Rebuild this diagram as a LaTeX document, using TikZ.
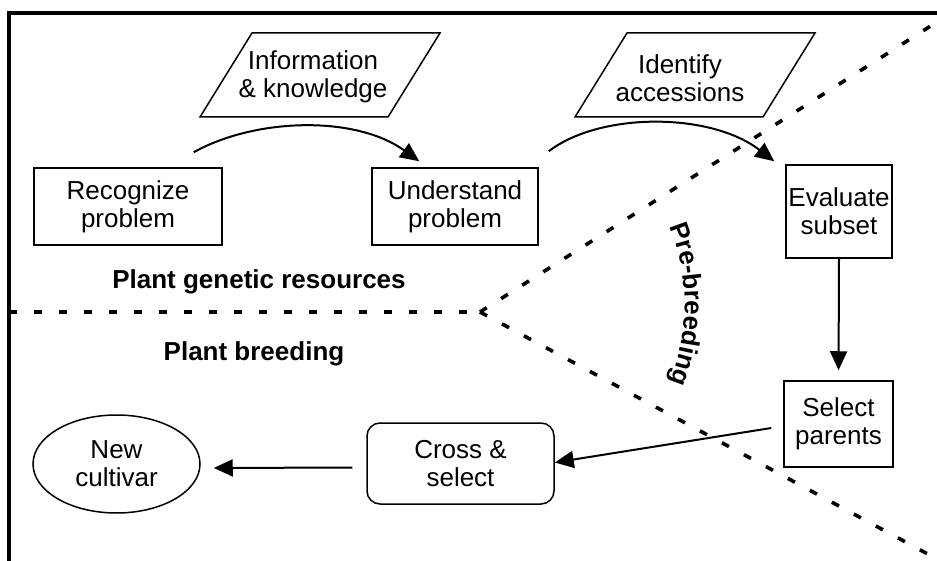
\documentclass[tikz,border=0pt]{standalone}
\usepackage{fontspec}
\setmainfont{Liberation Sans}
\usetikzlibrary{arrows.meta,shapes.geometric,decorations.text}
\begin{document}
\begin{tikzpicture}[x=1pt,y=-1pt,
  every node/.style={font=\fontsize{26}{28}\selectfont, align=center, inner sep=0pt},
  boxnode/.style={draw, line width=1.5pt},
  lbl/.style={font=\fontsize{26}{28}\selectfont\bfseries},
  arr/.style={line width=2pt, -{Triangle[length=19pt,width=17pt]}},
  dline/.style={line width=3.6pt, dash pattern=on 8pt off 17pt},
  frame/.style={line width=3.5pt},
  para/.style={line width=1.5pt, line join=miter}]
\useasboundingbox (0,0) rectangle (937,561);

% frame
\coordinate (ftl) at (9,13);
\coordinate (ftr) at (937,13);
\coordinate (fbl) at (9,561);
\draw[frame] (ftr) -- (ftl) -- (fbl);

% dashed separators
\coordinate (jn) at (480,312);
\coordinate (dl) at (9,312);
\coordinate (du) at (937,22);
\coordinate (dd) at (937,559);
\draw[dline] (dl) -- (jn);
\draw[dline] (jn) -- (du);
\draw[dline] (jn) -- (dd);

% boxes
\node[boxnode, minimum width=188pt, minimum height=77pt] (rec) at (128,206.5) {Recognize\\problem};
\node[boxnode, minimum width=166pt, minimum height=77pt] (und) at (455,206.5) {Understand\\problem};
\node[boxnode, minimum width=106pt, minimum height=93pt] (eval) at (839,211.5) {Evaluate\\subset};
\node[boxnode, minimum width=109pt, minimum height=86pt] (sel) at (838.5,424) {Select\\parents};
\node[boxnode, rounded corners=13pt, minimum width=187pt, minimum height=81pt] (cross) at (460.5,463.5) {Cross \&\\select};
\node[boxnode, ellipse, minimum width=167pt, minimum height=98pt] (newc) at (116.5,464) {New\\cultivar};

% parallelograms
\draw[para] (200,117) -- (252,33) -- (440,33) -- (388,117) -- cycle;
\node (info) at (313,77) {Information\\\& knowledge};
\draw[para] (575,117) -- (627,33) -- (815,33) -- (763,117) -- cycle;
\node (ident) at (680,78) {Identify\\accessions};

% region labels
\node[lbl] (pgr) at (259,282) {Plant genetic resources};
\node[lbl] (pb) at (254,354) {Plant breeding};

% curved label
\path[decorate, decoration={text along path, text align=center,
  text={|\fontsize{26}{28}\selectfont\bfseries|Pre-breeding}}]
  (657.5,202) .. controls (693.9,265) and (693.9,344) .. (657.5,407);

% arcs
\coordinate (a1s) at ([xshift=-29pt,yshift=15pt]rec.north east);
\coordinate (a1e) at ([xshift=48pt,yshift=6pt]und.north west);
\draw[arr] (a1s) .. controls (255,118) and (355,115) .. (a1e);
\coordinate (a2s) at ([xshift=10pt,yshift=16pt]und.north east);
\coordinate (a2e) at ([xshift=-11pt,yshift=3pt]eval.north west);
\draw[arr] (a2s) .. controls (600,112) and (710,112) .. (a2e);

% straight arrows
\draw[arr, shorten >=10pt] (eval.south) -- (sel.north);
\draw[arr] ([xshift=-12pt,yshift=-4pt]sel.west) -- ([xshift=0pt,yshift=1pt]cross.east);
\draw[arr, shorten <=14pt, shorten >=13pt] ([yshift=-4pt]cross.west) -- ([yshift=-4pt]newc.east);
\end{tikzpicture}
\end{document}
